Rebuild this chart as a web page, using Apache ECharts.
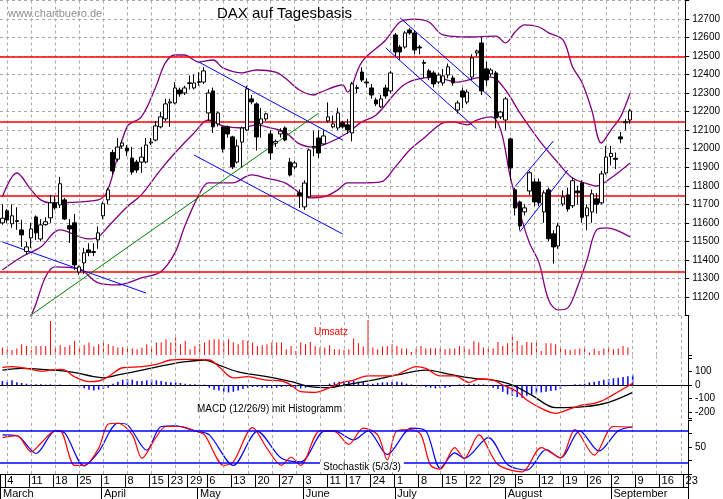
<!DOCTYPE html>
<html><head><meta charset="utf-8">
<script src="https://cdn.jsdelivr.net/npm/echarts@6/dist/echarts.min.js"></script>
<style>html,body{margin:0;padding:0;background:#fff}#c{width:723px;height:499px}</style>
</head><body><div id="c"></div>
<script>
// ---- trading days (2019) ----
const daysMar=[1,4,5,6,7,8,11,12,13,14,15,18,19,20,21,22,25,26,27,28,29];
const daysApr=[1,2,3,4,5,8,9,10,11,12,15,16,17,18,23,24,25,26,29,30];
const daysMay=[2,3,6,7,8,9,10,13,14,15,16,17,20,21,22,23,24,27,28,29,30,31];
const daysJun=[3,4,5,6,7,11,12,13,14,17,18,19,20,21,24,25,26,27,28];
const daysJul=[1,2,3,4,5,8,9,10,11,12,15,16,17,18,19,22,23,24,25,26,29,30,31];
const daysAug=[1,2,5,6,7,8,9,12,13,14,15,16,19,20,21,22,23,26,27,28,29,30];
const daysSep=[2,3,4,5,6,9,10,11,12,13,16,17,18,19,20,23];
const monthNames=['March','April','May','June','July','August','September'];
const weekLabels=['4','11','18','25','1','8','15','23','29','6','13','20','27','3','11','17','24','1','8','15','22','29','5','12','19','26','2','9','16','23'];

// ---- OHLC [open, close, low, high] ----
const ohlc=[
[11600,11625,11590,11700],[11665,11615,11600,11675],[11595,11638,11573,11700],[11612,11608,11562,11684],[11562,11535,11470,11616],
[11445,11470,11427,11497],[11519,11567,11465,11600],[11632,11546,11508,11640],[11513,11589,11500,11620],[11590,11606,11585,11630],
[11627,11708,11600,11751],[11708,11681,11670,11745],[11697,11811,11680,11848],[11724,11621,11615,11735],[11585,11567,11491,11620],
[11600,11373,11346,11648],[11335,11362,11320,11370],[11384,11438,11325,11465],[11454,11440,11420,11490],[11440,11445,11420,11490],
[11508,11546,11460,11580],[11638,11703,11620,11715],[11724,11778,11700,11790],[11980,11880,11860,11995],[11944,12009,11930,12058],
[12015,12031,12000,12045],[12004,11988,11960,12020],[11950,11874,11860,12010],[11928,11885,11870,11940],[11928,11955,11870,12010],
[11928,12020,11920,12058],[12031,12036,12020,12058],[12047,12123,12040,12150],[12118,12172,12110,12200],[12161,12242,12150,12270],
[12247,12253,12118,12270],[12247,12328,12240,12360],[12317,12296,12280,12330],[12301,12328,12290,12340],[12352,12356,12320,12395],
[12328,12355,12320,12400],[12358,12362,12340,12413],[12360,12420,12350,12440],[12193,12301,12150,12320],[12312,12118,12085,12330],
[12134,12193,12120,12200],[12118,11998,11980,12120],[12118,12080,12060,12125],[12064,11902,11890,12070],[11928,12015,11920,12050],
[12036,12112,11900,12120],[12101,12323,12095,12340],[12269,12253,12240,12290],[12242,12064,11990,12250],[12134,12161,12060,12220],
[12161,12188,12150,12195],[12080,11977,11940,12100],[12030,12040,12010,12050],[12080,12095,12060,12110],[12112,12047,12040,12120],
[11928,11858,11850,11950],[11902,11923,11890,11935],[11762,11746,11680,11780],[11686,11815,11670,11830],[11741,11993,11735,12000],
[12005,12012,11960,12095],[12058,11977,11950,12100],[12026,12069,12020,12100],[12150,12172,12140,12250],[12118,12134,12110,12180],
[12112,12193,12100,12220],[12140,12118,12110,12150],[12129,12102,12080,12160],[12085,12350,12040,12360],[12325,12330,12300,12345],
[12414,12371,12360,12440],[12360,12355,12330,12380],[12328,12290,12270,12350],[12263,12242,12230,12275],[12226,12269,12220,12290],
[12328,12285,12270,12345],[12312,12409,12300,12420],[12614,12522,12500,12625],[12549,12522,12480,12560],[12549,12625,12540,12635],
[12641,12625,12615,12650],[12625,12533,12510,12640],[12549,12544,12510,12560],[12465,12461,12380,12480],[12420,12387,12370,12430],
[12409,12350,12330,12420],[12360,12398,12350,12410],[12355,12393,12340,12430],[12398,12442,12380,12460],[12382,12355,12340,12395],
[12209,12247,12190,12260],[12312,12279,12220,12330],[12252,12306,12240,12320],[12387,12490,12370,12510],[12517,12528,12500,12535],
[12571,12312,12290,12600],[12431,12371,12340,12470],[12404,12425,12390,12435],[12409,12166,12110,12420],[12172,12198,12160,12205],
[12155,12269,12100,12280],[12053,11896,11830,12060],[11778,11680,11640,11790],[11713,11583,11560,11720],[11659,11681,11640,11700],
[11772,11870,11750,11880],[11821,11713,11690,11840],[11821,11708,11690,11840],[11659,11762,11600,11775],[11778,11514,11500,11790],
[11541,11470,11380,11560],[11475,11583,11460,11600],[11702,11740,11690,11775],[11751,11675,11660,11790],[11692,11827,11680,11845],
[11772,11762,11700,11800],[11816,11630,11600,11830],[11638,11681,11560,11700],[11659,11757,11600,11780],[11730,11700,11650,11760],
[11708,11864,11700,11880],[11869,11955,11860,12015],[11958,11975,11910,12015],[11948,11943,11890,11980],[12064,12053,12030,12090],
[12140,12146,12100,12160],[12155,12204,12135,12215]];

// ---- Bollinger bands [dayIndex, value] ----
const bbUpper=[[0,11741],[3,11869],[6,11778],[8,11724],[10,11708],[20,11724],[22,11778],[26,12118],[29,12172],[32,12333],[34,12463],[36,12506],[38,12506],[41,12468],[44,12479],[46,12436],[50,12409],[53,12425],[57,12414],[59,12382],[62,12317],[65,12290],[66,12301],[71,12344],[72,12306],[75,12468],[80,12587],[83,12684],[86,12700],[89,12684],[92,12614],[97,12603],[103,12608],[105,12571],[107,12630],[109,12668],[112,12657],[114,12625],[117,12587],[119,12441],[121,12355],[123,12209],[125,12031],[127,12101],[129,12172],[131,12301]];
const bbMiddle=[[0,11346],[4,11416],[8,11470],[12,11562],[18,11513],[20,11524],[22,11578],[26,11686],[29,11751],[33,11886],[36,11977],[40,12085],[43,12155],[46,12123],[50,12112],[53,12129],[56,12112],[59,12090],[62,12026],[65,12009],[68,12031],[72,12085],[75,12145],[78,12182],[83,12328],[86,12371],[90,12387],[95,12360],[99,12382],[102,12387],[105,12317],[108,12193],[112,12047],[116,11923],[119,11842],[123,11804],[124,11799],[127,11842],[131,11923]];
const bbLower=[[0,10950],[3,11030],[6,11103],[9,11308],[11,11362],[16,11351],[20,11276],[24,11265],[29,11303],[33,11335],[36,11438],[38,11578],[41,11751],[43,11816],[46,11816],[48,11816],[52,11859],[55,11842],[59,11816],[62,11762],[64,11735],[67,11740],[70,11778],[72,11816],[75,11816],[79,11821],[82,11902],[85,11993],[88,12058],[92,12139],[94,12145],[97,12129],[99,12155],[102,12172],[104,12101],[106,11848],[108,11653],[110,11492],[112,11384],[114,11184],[116,11130],[118,11141],[120,11254],[122,11400],[124,11562],[126,11573],[128,11562],[131,11524]];

// ---- support / resistance and trend lines ----
const hLevels=[11335,11748,12148,12495];
const trendBlue=[[[0,11497],[30,11221]],[[41,12468],[71,12047]],[[40,11966],[71,11540]],[[83,12706],[102,12274]],[[80,12544],[99,12106]],[[107,11796],[115,12042]],[[108,11552],[118,11885]]];
const trendGreen=[[[6,11103],[66,12192]]];

// ---- volume ----
const volume=[7.3,5.7,5,6.3,10.7,9,5,9,9,9,34,7.3,9.7,8,9.7,14,7.3,9.7,12.3,8.3,10.7,12.3,10.7,9,7.3,8,7.3,6.3,5.7,7.3,10.7,9,12.3,12.3,15.7,12.3,17.3,10.7,14,5.7,9,10.7,12.3,15,15.7,15.7,12.3,15.7,12.3,10.7,15,14,12.3,9,9.7,10.7,12.3,12.3,12.3,5.7,9,4,12.3,10.7,13,9,7.3,7.3,
9.7,5.7,5.7,5,5.7,16.3,11.7,8.3,35,7.3,5.7,8.3,9,10.7,9,6.3,6.3,3,6.3,9,6.3,6.7,6.7,6.3,5.7,6.3,6.3,9,9,5.7,14,12.3,7.3,6.3,6.3,13,9,11.7,20.7,14,9.7,13,12.3,13,4,11.7,11.7,10.7,9,5.7,5,5.7,6.3,9,2.3,6.3,4,6.3,7.3,5.7,6.3,9,7.3];

// ---- MACD ----
const macdLine=[[0,132],[2,137],[4,129],[6,117],[8,104],[10,112],[12,117],[13,112],[15,62],[18,25],[20,30],[22,62],[25,129],[29,137],[32,154],[35,187],[38,192],[43,187],[45,137],[48,54],[51,62],[53,50],[55,37],[58,30],[60,0],[62,-50],[65,-55],[68,-20],[70,12],[73,37],[76,69],[81,69],[84,112],[86,137],[88,124],[91,69],[94,69],[97,20],[99,45],[102,37],[104,0],[107,-50],[109,-112],[112,-174],[115,-211],[116,-204],[120,-154],[123,-137],[125,-112],[128,-50],[131,12]];
const signalLine=[[0,112],[4,124],[10,112],[13,104],[16,87],[19,62],[21,54],[24,75],[29,112],[34,149],[38,174],[42,187],[45,149],[49,99],[55,62],[60,25],[64,-12],[68,-20],[71,0],[77,37],[82,75],[88,112],[93,80],[98,50],[102,37],[106,0],[110,-75],[115,-169],[121,-162],[126,-129],[131,-55]];
const histogram=[30,25,35,20,15,10,5,5,5,3,5,2,3,0,2,0,-15,-25,-35,-40,-35,-30,-20,10,25,40,45,40,30,30,35,40,35,30,25,20,20,15,10,5,5,3,3,-20,-35,-40,-50,-55,-50,-40,-30,-20,-15,-15,-20,-20,-25,-20,-15,-10,-15,-20,-25,-20,-15,-10,-5,-5,10,20,25,30,30,30,25,20,10,10,15,20,20,25,25,20,10,5,0,-10,-15,-20,-25,-25,-20,-15,-5,5,5,5,10,5,5,-10,-20,-30,-50,-70,-80,-90,-95,-80,-70,-60,-55,-50,-45,-40,-30,-10,0,5,5,10,20,25,30,40,45,50,55,60,65,75];

// ---- Stochastik ----
const stochK=[[0,67.5],[3,71],[6,41],[8,57],[11,80],[12,80],[15,16],[17,16],[20,47.5],[22,92.5],[24,94],[27,72.5],[29,29],[32,69],[34,88],[37,88],[40,80],[42,72.5],[46,16],[48,22.5],[52,86],[55,47.5],[58,16],[60,31],[62,16],[66,80],[69,79],[72,55],[75,85],[78,72.5],[80,26],[82,80],[85,82],[87,72.5],[89,16],[91,9],[94,49],[96,29],[99,72.5],[103,17.5],[108,4],[112,49],[116,30],[119,82],[123,35],[127,88],[131,87]];
const stochD=[[0,72.5],[3,71],[7,38],[11,80],[13,75.6],[17,15],[20,41],[24,94],[26,91],[30,44],[33,88],[36,89],[40,80],[43,72.5],[48,16],[53,79],[58,29],[62,22.5],[67,80],[69,80],[73,63],[76,80],[80,36],[85,85],[88,80],[91,11],[94,39],[96,29],[101,67.5],[105,17.5],[109,7],[113,45],[116,30],[120,80],[124,42.5],[128,80],[131,87]];

// ---- build categories ----
const monthsDays=[daysMar,daysApr,daysMay,daysJun,daysJul,daysAug,daysSep];
const cats=[],monthStart={},weekStart={};
let prevDate=null,wk=0;
monthsDays.forEach((arr,mi)=>{arr.forEach((d,k)=>{
  const idx=cats.length; cats.push((mi+3)+'-'+d);
  if(k===0) monthStart[idx]=monthNames[mi];
  const dt=new Date(2019,mi+2,d);
  if(prevDate && (dt.getDay()<prevDate.getDay() || (dt-prevDate)>5*864e5)){weekStart[idx]=weekLabels[wk++];}
  prevDate=dt;
});});
const N=cats.length;
const FONT='Liberation Sans';
const vGrid=[];for(let i=1;i<N;i+=5)vGrid.push({xAxis:cats[i],lineStyle:{color:'#aaa',type:[3,3],width:1}});
const gridMark={silent:true,symbol:'none',label:{show:false},animation:false,data:vGrid};
const pair=p=>p.map(q=>[cats[q[0]],q[1]]);

const priceMarks=[].concat(
  vGrid,
  hLevels.map(v=>({yAxis:v,lineStyle:{color:'#ff0000',width:1.5,type:'solid'}})),
  trendBlue.map(l=>[{coord:[cats[l[0][0]],l[0][1]],lineStyle:{color:'#0000ff',width:1,type:'solid'}},{coord:[cats[l[1][0]],l[1][1]]}]),
  trendGreen.map(l=>[{coord:[cats[l[0][0]],l[0][1]],lineStyle:{color:'#008000',width:1,type:'solid'}},{coord:[cats[l[1][0]],l[1][1]]}])
);

const W=688;
const grids=[
 {left:0,top:0.5,width:W,height:315},
 {left:0,top:315.5,width:W,height:39.4},
 {left:0,top:354.9,width:W,height:63.6},
 {left:0,top:420,width:W,height:54},
 {left:0,top:474,width:W,height:13.5},
 {left:0,top:487.5,width:W,height:11.5}
];
function xa(gi,extra){return Object.assign({type:'category',gridIndex:gi,data:cats,boundaryGap:true,
  axisLine:{show:false},axisTick:{show:false},axisLabel:{show:false},splitLine:{show:false}},extra||{});}
const blackLine={show:true,lineStyle:{color:'#000',width:1.2}};
const xAxes=[
 xa(0),xa(1),xa(2,{axisLine:blackLine}),xa(3,{axisLine:blackLine}),
 xa(4,{axisLine:blackLine,axisLabel:{show:true,inside:true,interval:i=>weekStart[i]!==undefined,formatter:(v,i)=>weekStart[i]||'',align:'left',margin:1,fontSize:11,fontFamily:FONT,color:'#000'},
   splitLine:{show:true,interval:i=>weekStart[i]!==undefined||i===0,lineStyle:{color:'#000',width:1}}}),
 xa(5,{axisLabel:{show:true,inside:true,interval:i=>monthStart[i]!==undefined,formatter:(v,i)=>monthStart[i]||'',align:'left',margin:0,fontSize:11,fontFamily:FONT,color:'#000'},
   splitLine:{show:true,interval:i=>monthStart[i]!==undefined,lineStyle:{color:'#000',width:1}}})
];
const lab={fontSize:10,fontFamily:FONT,color:'#000',margin:7};
const yAxes=[
 {type:'value',gridIndex:0,position:'right',min:11100,max:12800,interval:100,axisLine:{show:true,lineStyle:{color:'#000'}},axisTick:{show:true,length:4,lineStyle:{color:'#000'}},
  axisLabel:Object.assign({formatter:v=>(v<11200||v>12700)?'':String(v)},lab),splitLine:{show:true,lineStyle:{color:'#aaa',type:[3,3]}}},
 {type:'value',gridIndex:1,position:'right',min:0,max:39.4,axisLine:{show:true,lineStyle:{color:'#000'}},axisTick:{show:false},axisLabel:{show:false},splitLine:{show:false}},
 {type:'value',gridIndex:2,position:'right',min:-250,max:225,axisLine:{show:true,lineStyle:{color:'#000'}},axisTick:{show:true,length:4,lineStyle:{color:'#000'}},
  axisLabel:Object.assign({formatter:v=>(v%100===0&&v<=100&&v>=-200)?String(v):''},lab),splitLine:{show:false}},
 {type:'value',gridIndex:3,position:'right',min:0,max:100,interval:25,axisLine:{show:true,lineStyle:{color:'#000'}},axisTick:{show:true,length:4,lineStyle:{color:'#000'}},
  axisLabel:Object.assign({formatter:v=>v===50?'50':''},lab),splitLine:{show:false}},
 {type:'value',gridIndex:4,position:'right',axisLine:{show:true,lineStyle:{color:'#000'}},axisTick:{show:false},axisLabel:{show:false},splitLine:{show:false}},
 {type:'value',gridIndex:5,position:'right',axisLine:{show:true,lineStyle:{color:'#000'}},axisTick:{show:false},axisLabel:{show:false},splitLine:{show:false}}
];
const purple={type:'line',xAxisIndex:0,yAxisIndex:0,showSymbol:false,symbol:'none',smooth:0.35,lineStyle:{color:'#800080',width:1.3},z:3};
const series=[
 {type:'candlestick',xAxisIndex:0,yAxisIndex:0,data:ohlc.map(r=>[r[0],r[1],r[2],r[3]]),barWidth:4,z:5,
  itemStyle:{color:'#fff',color0:'#000',borderColor:'#000',borderColor0:'#000',borderWidth:1},
  markLine:{silent:true,symbol:'none',label:{show:false},animation:false,data:priceMarks}},
 Object.assign({data:pair(bbUpper)},purple),Object.assign({data:pair(bbMiddle)},purple),Object.assign({data:pair(bbLower)},purple),
 {type:'bar',xAxisIndex:1,yAxisIndex:1,data:volume,barWidth:1,itemStyle:{color:'#ff0000'},markLine:gridMark},
 {type:'bar',xAxisIndex:2,yAxisIndex:2,data:histogram,barWidth:1.5,itemStyle:{color:'#0000ff'},markLine:gridMark},
 {type:'line',xAxisIndex:2,yAxisIndex:2,data:pair(signalLine),showSymbol:false,symbol:'none',smooth:0.35,lineStyle:{color:'#000',width:1.3}},
 {type:'line',xAxisIndex:2,yAxisIndex:2,data:pair(macdLine),showSymbol:false,symbol:'none',smooth:0.35,lineStyle:{color:'#ff0000',width:1.3}},
 {type:'line',xAxisIndex:3,yAxisIndex:3,data:pair(stochD),showSymbol:false,symbol:'none',smooth:0.3,lineStyle:{color:'#0000ff',width:1.2},
  markLine:{silent:true,symbol:'none',label:{show:false},animation:false,data:vGrid.concat([{yAxis:80,lineStyle:{color:'#0000ff',width:1.5,type:'solid'}},{yAxis:20,lineStyle:{color:'#0000ff',width:1.5,type:'solid'}}])}},
 {type:'line',xAxisIndex:3,yAxisIndex:3,data:pair(stochK),showSymbol:false,symbol:'none',smooth:0.3,lineStyle:{color:'#ff0000',width:1.2}}
];
const chart=echarts.init(document.getElementById('c'),null,{renderer:'canvas'});
chart.setOption({
 animation:false,backgroundColor:'#fff',
 title:[
  {text:'DAX auf Tagesbasis',left:212,top:1,textStyle:{fontSize:15,fontWeight:'normal',fontFamily:FONT,color:'#000'}},
  {text:'www.chartbuero.de',left:3,top:3,textStyle:{fontSize:11,fontWeight:'normal',fontFamily:FONT,color:'#909090'}},
  {text:'Umsatz',left:309,top:322,textStyle:{fontSize:10,fontWeight:'normal',fontFamily:FONT,color:'#ff0000'}},
  {text:'MACD (12/26/9) mit Histogramm',left:192,top:399,textStyle:{fontSize:10,fontWeight:'normal',fontFamily:FONT,color:'#000'}},
  {text:'Stochastik (5/3/3)',left:320,top:462,padding:[0,3],backgroundColor:'#fff',textStyle:{fontSize:10,fontWeight:'normal',fontFamily:FONT,color:'#000'},z:10}
 ],
 grid:grids,xAxis:xAxes,yAxis:yAxes,series:series
});
</script></body></html>
